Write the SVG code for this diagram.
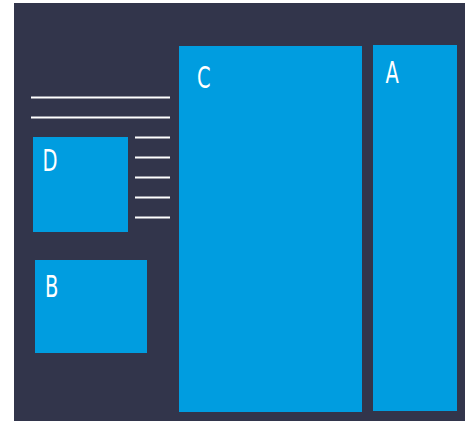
<svg xmlns="http://www.w3.org/2000/svg" width="465" height="421" viewBox="0 0 465 421">
<style>
.bg{fill:#32354b}
.box{fill:#009de0}
.lbl{fill:#ffffff;font-family:"DejaVu Sans Condensed","DejaVu Sans",sans-serif;font-size:31px}
.ln{stroke:#ffffff;stroke-width:2.2;fill:none}
</style>
<rect class="bg" x="14" y="3" width="451" height="418"/>
<g id="lines">
<line class="ln" x1="31" y1="97.5" x2="170" y2="97.5"/>
<line class="ln" x1="31" y1="117.5" x2="170" y2="117.5"/>
<line class="ln" x1="135" y1="137.5" x2="170" y2="137.5"/>
<line class="ln" x1="135" y1="157.5" x2="170" y2="157.5"/>
<line class="ln" x1="135" y1="177.5" x2="170" y2="177.5"/>
<line class="ln" x1="135" y1="197.5" x2="170" y2="197.5"/>
<line class="ln" x1="135" y1="217.5" x2="170" y2="217.5"/>
</g>
<g id="C"><rect class="box" x="179" y="46" width="183" height="366"/><text class="lbl" transform="translate(197,87.5) scale(0.7,1)">C</text></g>
<g id="A"><rect class="box" x="373" y="45" width="84" height="366"/><text class="lbl" transform="translate(385.5,83.3) scale(0.7,1)">A</text></g>
<g id="D"><rect class="box" x="33" y="137" width="95" height="95"/><text class="lbl" transform="translate(42.5,171) scale(0.7,1)">D</text></g>
<g id="B"><rect class="box" x="35" y="260" width="112" height="93"/><text class="lbl" transform="translate(45,297) scale(0.7,1)">B</text></g>
</svg>
